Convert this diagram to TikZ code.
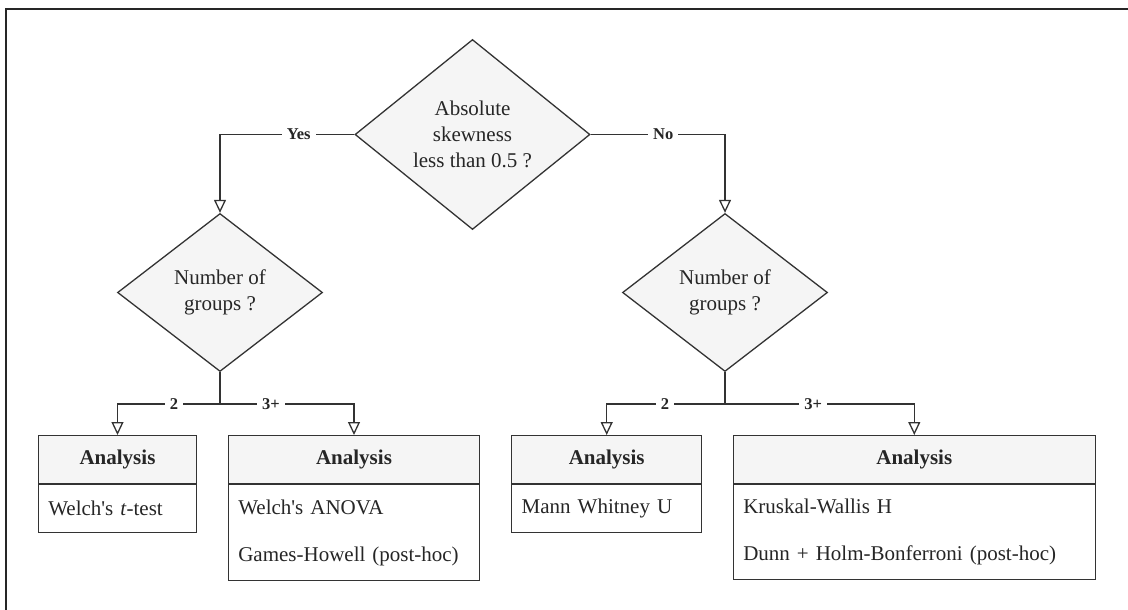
\documentclass[tikz,border=0pt]{standalone}
\usepackage{fontspec}
\setmainfont{Liberation Serif}
\usetikzlibrary{shapes.geometric, arrows.meta}
\definecolor{ink}{HTML}{333333}
\definecolor{panel}{HTML}{F5F5F5}

\begin{document}
\begin{tikzpicture}[x=1pt, y=-1pt,
  decision/.style={diamond, draw=ink, fill=panel, line width=1.3pt, inner sep=0pt,
    align=center, font=\fontsize{21}{26}\selectfont, text=black!85},
  hdr/.style={rectangle, draw=ink, fill=panel, line width=1.3pt, minimum height=47.7pt,
    inner sep=0pt, font=\fontsize{21}{25}\selectfont\bfseries, text=black!85, anchor=north},
  bodybox/.style={rectangle, draw=ink, fill=white, line width=1.3pt, inner xsep=10pt,
    inner ysep=0pt, align=left, font=\fontsize{21}{47}\selectfont, text=black!85, anchor=north},
  flow/.style={draw=ink, line width=1.3pt, -{Triangle[open, length=13pt, width=12pt]}},
  tag/.style={fill=white, inner xsep=5pt, inner ysep=2pt,
    font=\fontsize{16.5}{18}\selectfont\bfseries, text=black!85},
]
\useasboundingbox (0,0) rectangle (1128,610);

% frame along the top and left edges
\draw[line width=2pt, color=black!85] (6,612) -- (6,9) -- (1130,9);

% decisions
\node[decision, minimum width=235pt, minimum height=190pt] (top) at (472.5,134.5)
  {Absolute\\skewness\\less than 0.5 ?};
\node[decision, minimum width=205pt, minimum height=158pt] (ld) at (220,292.5)
  {Number of\\groups ?};
\node[decision, minimum width=205pt, minimum height=158pt] (rd) at (725,292.5)
  {Number of\\groups ?};

% analysis boxes: header + body
\node[hdr, minimum width=158.4pt] (h1) at (117.5,435) {Analysis};
\node[bodybox, text width=138.4pt, minimum height=48pt] (b1) at (h1.south)
  {Welch\textquotesingle s \textit{t}-test};

\node[hdr, minimum width=251.4pt] (h2) at (354,435) {Analysis};
\node[bodybox, text width=231.4pt, minimum height=95.6pt] (b2) at (h2.south)
  {Welch\textquotesingle s ANOVA\\Games-Howell (post-hoc)};

\node[hdr, minimum width=190pt] (h3) at (606.7,435) {Analysis};
\node[bodybox, text width=170pt, minimum height=48pt] (b3) at (h3.south)
  {Mann Whitney U};

\node[hdr, minimum width=362pt] (h4) at (914.3,435) {Analysis};
\node[bodybox, text width=342pt, minimum height=95pt] (b4) at (h4.south)
  {Kruskal-Wallis H\\Dunn + Holm-Bonferroni (post-hoc)};

% branch points below the group decisions
\coordinate (lj) at (220,404);
\coordinate (rj) at (725,404);

% connectors
\draw[flow] (top.west) -| (ld.north) node[tag, pos=0.207] {Yes};
\draw[flow] (top.east) -| (rd.north) node[tag, pos=0.27] {No};
\draw[flow] (ld.south) -- (lj) -| (h1.north) node[tag, pos=0.224] {2};
\draw[flow] (ld.south) -- (lj) -| (h2.north) node[tag, pos=0.19] {3+};
\draw[flow] (rd.south) -- (rj) -| (h3.north) node[tag, pos=0.254] {2};
\draw[flow] (rd.south) -- (rj) -| (h4.north) node[tag, pos=0.233] {3+};
\end{tikzpicture}
\end{document}
